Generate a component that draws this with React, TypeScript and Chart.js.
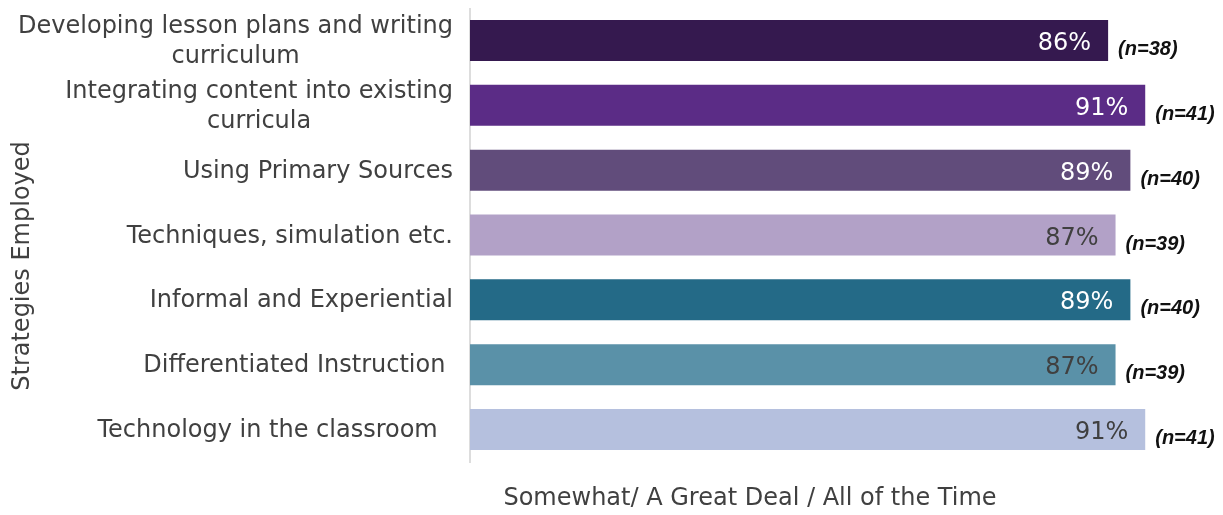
import React, { useEffect, useRef } from "react";
import { Chart, registerables } from "chart.js";

Chart.register(...registerables);

const categories: (string | string[])[] = [
  ["Developing lesson plans and writing", "curriculum"],
  ["Integrating content into existing", "curricula"],
  "Using Primary Sources",
  "Techniques, simulation etc.",
  "Informal and Experiential",
  "Differentiated Instruction ",
  "Technology in the classroom  ",
];
const percentValues = [86, 91, 89, 87, 89, 87, 91];
const nValues = [38, 41, 40, 39, 40, 39, 41];
const barColors = ["#35194F", "#5B2C86", "#614C7B", "#B2A1C7", "#246A87", "#5A91A8", "#B5C0DE"];
const valueTextColors = ["#FFFFFF", "#FFFFFF", "#FFFFFF", "#404040", "#FFFFFF", "#404040", "#404040"];
const yAxisTitle = "Strategies Employed";
const xAxisTitle = "Somewhat/ A Great Deal / All of the Time";

const FONT = "'DejaVu Sans', Verdana, sans-serif";

const decorPlugin = {
  id: "decor",
  afterDatasetsDraw(chart: any) {
    const ctx = chart.ctx as CanvasRenderingContext2D;
    const area = chart.chartArea;
    const yScale = chart.scales.y;
    const meta = chart.getDatasetMeta(0);
    ctx.save();
    // category labels
    ctx.font = `24px ${FONT}`;
    ctx.fillStyle = "#404040";
    ctx.textBaseline = "alphabetic";
    ctx.textAlign = "center";
    const lineH = 30;
    categories.forEach((lab, i) => {
      const lines = Array.isArray(lab) ? lab : [lab];
      const yc = yScale.getPixelForValue(i);
      const w = Math.max(...lines.map((l) => ctx.measureText(l).width));
      const rightX = area.left - 17;
      const cx = rightX - w / 2;
      lines.forEach((l, j) => {
        const y = yc + 7.5 + (j - (lines.length - 1) / 2) * lineH;
        ctx.fillText(l, cx, y);
      });
    });
    // value labels and n labels
    meta.data.forEach((bar: any, i: number) => {
      ctx.font = `24px ${FONT}`;
      ctx.textAlign = "right";
      ctx.fillStyle = valueTextColors[i];
      ctx.fillText(`${percentValues[i]}%`, bar.x - 17, bar.y + 9.5);
      ctx.font = `italic bold 20px 'Liberation Sans', Arial, sans-serif`;
      ctx.textAlign = "left";
      ctx.fillStyle = "#111111";
      ctx.fillText(`(n=${nValues[i]})`, bar.x + 10, bar.y + 14.5);
    });
    // axis titles
    ctx.font = `24px ${FONT}`;
    ctx.fillStyle = "#404040";
    ctx.textAlign = "center";
    ctx.fillText(xAxisTitle, 742, 497);
    ctx.translate(20.5, 258);
    ctx.rotate(-Math.PI / 2);
    ctx.fillText(yAxisTitle, 0, 0);
    ctx.restore();
  },
};

export default function App() {
  const ref = useRef<HTMLCanvasElement | null>(null);
  useEffect(() => {
    if (!ref.current) return;
    const chart = new Chart(ref.current, {
      type: "bar",
      data: {
        labels: categories as any,
        datasets: [
          {
            data: percentValues,
            backgroundColor: barColors,
            barPercentage: 0.632,
            categoryPercentage: 1,
          },
        ],
      },
      options: {
        indexAxis: "y",
        animation: false,
        responsive: true,
        maintainAspectRatio: false,
        layout: { padding: { top: 0, right: 3, bottom: 45, left: 0 } },
        plugins: { legend: { display: false }, tooltip: { enabled: false } },
        scales: {
          x: { display: false, min: 0, max: 100 },
          y: {
            ticks: { display: false },
            grid: { display: false },
            border: { display: true, color: "#dddddd", width: 2 },
            afterFit: (s: any) => {
              s.width = 462;
            },
          },
        },
      },
      plugins: [decorPlugin],
    });
    return () => chart.destroy();
  }, []);
  return (
    <div style={{ width: 1207, height: 499, position: "relative" }}>
      <canvas ref={ref} />
    </div>
  );
}
